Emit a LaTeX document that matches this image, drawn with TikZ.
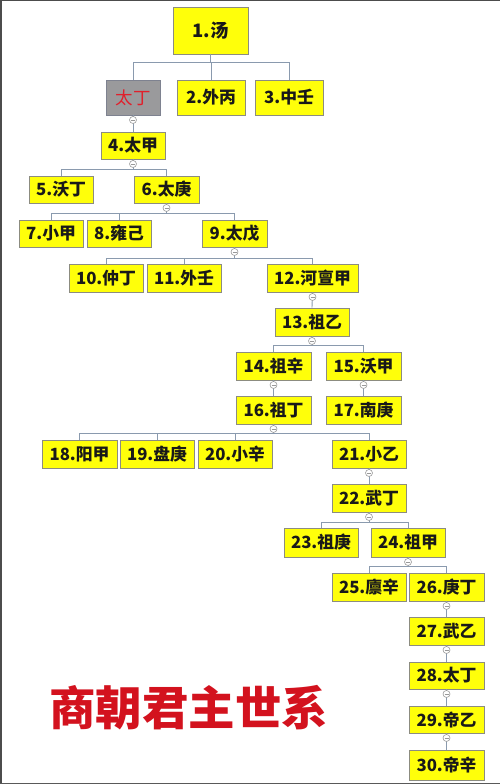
\documentclass[tikz,border=0pt]{standalone}
\usepackage{fontspec}
\newfontfamily\cjk{Noto Sans CJK SC}
\usetikzlibrary{calc}
\definecolor{boxyellow}{HTML}{FFFF0A}
\definecolor{boxedge}{HTML}{8C8C80}
\definecolor{linecol}{HTML}{8A9AAE}
\definecolor{titlered}{HTML}{D3121E}
\definecolor{grayfill}{HTML}{9A9A9C}
\definecolor{grayedge}{HTML}{7E8290}
\definecolor{kingred}{HTML}{E0202C}
\tikzset{
  king/.style={draw=boxedge, line width=0.9pt, fill=boxyellow, inner sep=0pt,
    font=\cjk\bfseries\fontsize{16.8}{17}\selectfont, text=black!90},
  conn/.style={draw=linecol, line width=0.9pt},
  knob/.style={circle, draw=gray!80, fill=white, line width=0.6pt, minimum size=7pt, inner sep=0pt,
    path picture={\draw[gray!80, line width=0.4pt] ($(path picture bounding box.west)+(1.5pt,0)$) -- ($(path picture bounding box.east)+(-1.5pt,0)$);}},
}
\begin{document}
\begin{tikzpicture}[x=1pt,y=-1pt]
\useasboundingbox (0,0) rectangle (500,784);
\fill[white] (0,0) rectangle (500,784);
\draw[gray!60!black, line width=1.6pt] (0.8,784) -- (0.8,0.6) -- (500,0.6);
\draw[gray!70!black, line width=1.2pt] (0,783.2) -- (500,783.2);

% nodes
\node[king, minimum width=75pt, minimum height=47pt, font=\cjk\bfseries\fontsize{18.5}{19}\selectfont] (b1) at (210.5,30.5) {1.汤};
\node[king, minimum width=54pt, minimum height=35pt, fill=grayfill, draw=grayedge, font=\cjk\fontsize{17.5}{18}\selectfont, text=kingred] (bT) at (133,97.5) {太丁};
\node[king, minimum width=68pt, minimum height=35pt] (b2) at (211,97.5) {2.外丙};
\node[king, minimum width=68pt, minimum height=35pt] (b3) at (289,97.5) {3.中壬};
\node[king, minimum width=64pt, minimum height=27pt] (b4) at (133,145.5) {4.太甲};
\node[king, minimum width=64pt, minimum height=27pt] (b5) at (61,189.5) {5.沃丁};
\node[king, minimum width=65pt, minimum height=27pt] (b6) at (166.5,189.5) {6.太庚};
\node[king, minimum width=64pt, minimum height=27pt] (b7) at (51,233.5) {7.小甲};
\node[king, minimum width=64pt, minimum height=27pt] (b8) at (119,233.5) {8.雍己};
\node[king, minimum width=65pt, minimum height=27pt] (b9) at (234.5,233.5) {9.太戊};
\node[king, minimum width=74pt, minimum height=28pt] (b10) at (106,278) {10.仲丁};
\node[king, minimum width=74pt, minimum height=28pt] (b11) at (184,278) {11.外壬};
\node[king, minimum width=91pt, minimum height=28pt] (b12) at (312.5,278) {12.河亶甲};
\node[king, minimum width=74pt, minimum height=28pt] (b13) at (312,322) {13.祖乙};
\node[king, minimum width=75pt, minimum height=28pt] (b14) at (273.5,366) {14.祖辛};
\node[king, minimum width=75pt, minimum height=28pt] (b15) at (363.5,366) {15.沃甲};
\node[king, minimum width=75pt, minimum height=28pt] (b16) at (273.5,410) {16.祖丁};
\node[king, minimum width=75pt, minimum height=28pt] (b17) at (363.5,410) {17.南庚};
\node[king, minimum width=75pt, minimum height=28pt] (b18) at (79.5,454) {18.阳甲};
\node[king, minimum width=74pt, minimum height=28pt] (b19) at (157,454) {19.盘庚};
\node[king, minimum width=74pt, minimum height=28pt] (b20) at (235,454) {20.小辛};
\node[king, minimum width=74pt, minimum height=28pt] (b21) at (369,454) {21.小乙};
\node[king, minimum width=74pt, minimum height=28pt] (b22) at (369,498) {22.武丁};
\node[king, minimum width=74pt, minimum height=29pt] (b23) at (321,542.5) {23.祖庚};
\node[king, minimum width=74pt, minimum height=29pt] (b24) at (408,542.5) {24.祖甲};
\node[king, minimum width=74pt, minimum height=28pt] (b25) at (369,587) {25.廪辛};
\node[king, minimum width=75pt, minimum height=28pt] (b26) at (446.5,587) {26.庚丁};
\node[king, minimum width=75pt, minimum height=28pt] (b27) at (446.5,631) {27.武乙};
\node[king, minimum width=75pt, minimum height=27pt] (b28) at (446.5,675.5) {28.太丁};
\node[king, minimum width=75pt, minimum height=27pt] (b29) at (446.5,719.5) {29.帝乙};
\node[king, minimum width=75pt, minimum height=30pt] (b30) at (446.5,765) {30.帝辛};

% bus levels
\coordinate (u1) at (0,62);
\coordinate (u4) at (0,169);
\coordinate (u6) at (0,213);
\coordinate (u9) at (0,258);
\coordinate (u13) at (0,345);
\coordinate (u16) at (0,433);
\coordinate (u22) at (0,522);
\coordinate (u24) at (0,566);

% multi-child connectors
\foreach \c in {bT,b2,b3}{\draw[conn] (b1.south) -- (b1.south |- u1) -| (\c.north);}
\foreach \c in {b5,b6}{\draw[conn] (b4.south) -- (b4.south |- u4) -| (\c.north);}
\foreach \c in {b7,b8,b9}{\draw[conn] (b6.south) -- (b6.south |- u6) -| (\c.north);}
\foreach \c in {b10,b11,b12}{\draw[conn] (b9.south) -- (b9.south |- u9) -| (\c.north);}
\foreach \c in {b14,b15}{\draw[conn] (b13.south) -- (b13.south |- u13) -| (\c.north);}
\foreach \c in {b18,b19,b20,b21}{\draw[conn] (b16.south) -- (b16.south |- u16) -| (\c.north);}
\foreach \c in {b23,b24}{\draw[conn] (b22.south) -- (b22.south |- u22) -| (\c.north);}
\foreach \c in {b25,b26}{\draw[conn] (b24.south) -- (b24.south |- u24) -| (\c.north);}

% single-child connectors
\draw[conn] (bT.south) -- (b4.north);
\draw[conn] (b12.south) -- (b13.north);
\draw[conn] (b14.south) -- (b16.north);
\draw[conn] (b15.south) -- (b17.north);
\draw[conn] (b21.south) -- (b22.north);
\draw[conn] (b26.south) -- (b27.north);
\draw[conn] (b27.south) -- (b28.north);
\draw[conn] (b28.south) -- (b29.north);
\draw[conn] (b29.south) -- (b30.north);

% collapse knobs
\foreach \p in {bT,b4,b6,b9,b12,b13,b14,b15,b16,b21,b22,b24,b26,b27,b28,b29}{
  \node[knob] (k\p) at ($(\p.south)+(0,4.5)$) {};
}

% title
\node[font=\cjk\bfseries\fontsize{46.5}{47}\selectfont, text=titlered, inner sep=0pt] (title) at (188.5,708) {商朝君主世系};
\end{tikzpicture}
\end{document}
